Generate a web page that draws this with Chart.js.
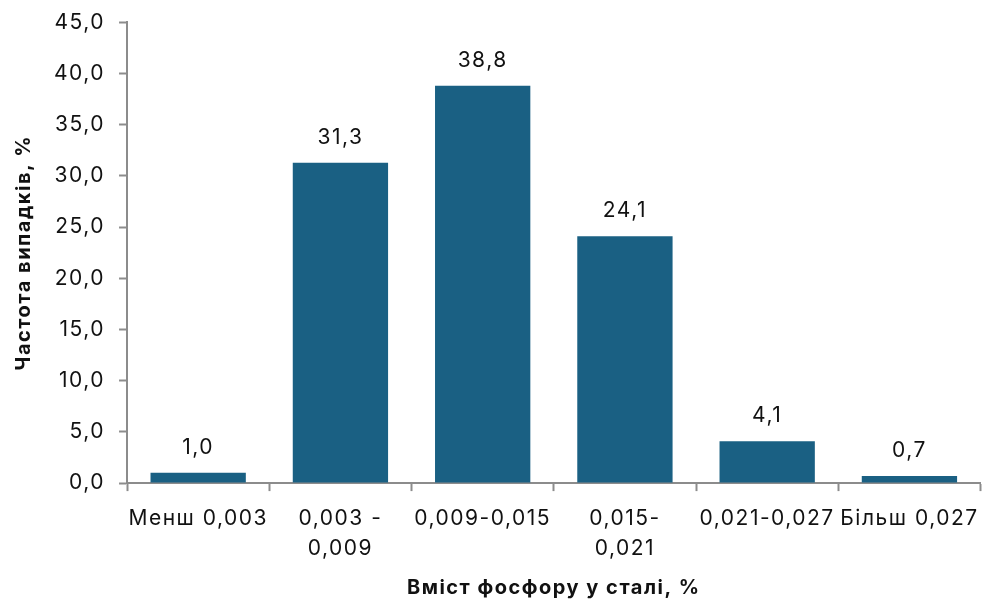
<!DOCTYPE html>
<html>
<head>
<meta charset="utf-8">
<script src="https://cdn.jsdelivr.net/npm/chart.js@4"></script>
<style>
	html, body { margin: 0; padding: 0; background: #fff; }
	#wrap { width: 991px; height: 600px; }
</style>
</head>
<body>
<div id="wrap"><canvas id="chart-bar"></canvas></div>
<script>
// Data
const categories = [
	'Менш 0,003',
	['0,003 -', '0,009'],
	'0,009-0,015',
	['0,015-', '0,021'],
	'0,021-0,027',
	'Більш 0,027',
];
const frequency = [1.0, 31.3, 38.8, 24.1, 4.1, 0.7];

const fmt = (v) => Number(v).toFixed(1).replace('.', ',');
const axisGrey = '#8c8c8c';
const fontFamily = 'Inter, "Noto Sans", sans-serif';
const spacing = '1.5px'; // reference font runs wider than Inter

// Slightly wider text everywhere
const wideText = {
	id: 'wideText',
	beforeUpdate(chart) {
		chart.ctx.letterSpacing = spacing;
	},
	beforeDraw(chart) {
		chart.ctx.letterSpacing = spacing;
	},
};

// Value labels above bars
const valueLabels = {
	id: 'valueLabels',
	afterDatasetsDraw(chart) {
		const ctx = chart.ctx;
		const meta = chart.getDatasetMeta(0);
		ctx.save();
		ctx.letterSpacing = spacing;
		ctx.font = '21px ' + fontFamily;
		ctx.fillStyle = '#111';
		ctx.textAlign = 'center';
		ctx.textBaseline = 'alphabetic';
		meta.data.forEach((bar, i) => {
			ctx.fillText(fmt(frequency[i]), bar.x, bar.y - 19);
		});
		ctx.restore();
	},
};

!(function () {
	const ctx = document.getElementById('chart-bar');

	new Chart(ctx, {
		type: 'bar',
		data: {
			labels: categories,
			datasets: [
				{
					data: frequency,
					backgroundColor: '#1a6083',
					categoryPercentage: 0.67,
					barPercentage: 1,
				},
			],
		},
		options: {
			responsive: true,
			maintainAspectRatio: false,
			animation: false,
			layout: {
				padding: { top: 8, right: 5, left: 12, bottom: 0 },
			},
			scales: {
				x: {
					offset: true,
					grid: {
						offset: true,
						drawOnChartArea: false,
						drawTicks: true,
						tickLength: 8,
						tickColor: axisGrey,
						tickWidth: 2,
					},
					border: { display: true, color: axisGrey, width: 2 },
					ticks: {
						color: '#111',
						font: { family: fontFamily, size: 21, lineHeight: 1.45 },
						maxRotation: 0,
						autoSkip: false,
						padding: 12,
					},
					title: {
						display: true,
						text: 'Вміст фосфору у сталі, %',
						color: '#111',
						font: { family: fontFamily, size: 20, weight: 'bold' },
						padding: { top: 0, bottom: 0 },
					},
				},
				y: {
					min: 0,
					max: 45,
					ticks: {
						stepSize: 5,
						color: '#111',
						font: { family: fontFamily, size: 21, lineHeight: 0.8 },
						padding: 14,
						callback: (v) => fmt(v),
					},
					grid: {
						drawOnChartArea: false,
						drawTicks: true,
						tickLength: 8,
						tickColor: axisGrey,
						tickWidth: 2,
					},
					border: { display: true, color: axisGrey, width: 2 },
					title: {
						display: true,
						text: 'Частота випадків, %',
						color: '#111',
						font: { family: fontFamily, size: 20, weight: 'bold' },
						padding: { top: 0, bottom: 4 },
					},
				},
			},
			plugins: {
				legend: { display: false },
				tooltip: { enabled: false },
			},
		},
		plugins: [wideText, valueLabels],
	});
})();
</script>
</body>
</html>
